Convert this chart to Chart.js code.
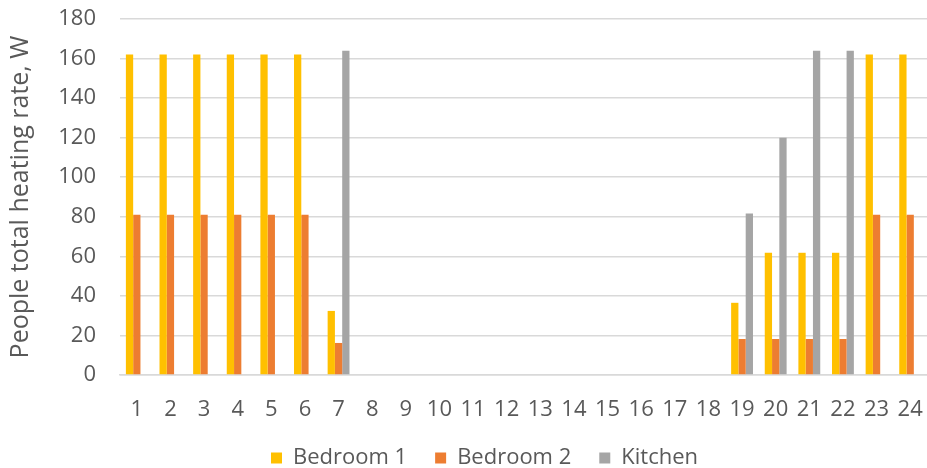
<!DOCTYPE html>
<html>
<head>
<meta charset="utf-8">
<script src="https://cdn.jsdelivr.net/npm/chart.js@4/dist/chart.umd.min.js"></script>
<style>
  html, body { margin: 0; padding: 0; background: #fff; }
  #wrap { width: 927px; height: 468px; position: relative; }
</style>
</head>
<body>
<div id="wrap"><canvas id="heatChart"></canvas></div>
<script>
  "use strict";

  // hour of day
  const hours = ["1", "2", "3", "4", "5", "6", "7", "8", "9", "10", "11", "12",
    "13", "14", "15", "16", "17", "18", "19", "20", "21", "22", "23", "24"];

  // people heat gain per room, W
  const bedroom1 = [162, 162, 162, 162, 162, 162, 32.4, 0, 0, 0, 0, 0,
    0, 0, 0, 0, 0, 0, 36.5, 61.8, 61.8, 61.8, 162, 162];
  const bedroom2 = [81, 81, 81, 81, 81, 81, 16.2, 0, 0, 0, 0, 0,
    0, 0, 0, 0, 0, 0, 18.2, 18.2, 18.2, 18.2, 81, 81];
  const kitchen = [0, 0, 0, 0, 0, 0, 164, 0, 0, 0, 0, 0,
    0, 0, 0, 0, 0, 0, 81.7, 120, 164, 164, 0, 0];

  const yTicks = [0, 20, 40, 60, 80, 100, 120, 140, 160, 180];

  const textColor = "#595959";
  const gridColor = "#d9d9d9";
  const fontFamily = "'Open Sans', sans-serif";

  const bar = (label, data, color) => ({
    label, data,
    backgroundColor: color,
    borderWidth: 0,
    barPercentage: 1.0,
    categoryPercentage: 0.65
  });

  // nudge the legend a bit right of the canvas centre
  const legendShift = {
    id: "legendShift",
    afterLayout(chart) {
      if (!chart.legend) return;
      chart.legend.left += 21;
      chart.legend.right += 21;
    }
  };

  new Chart(document.getElementById("heatChart"), {
    type: "bar",
    data: {
      labels: hours,
      datasets: [
        bar("Bedroom 1", bedroom1, "#ffc000"),
        bar("Bedroom 2", bedroom2, "#ed7d31"),
        bar("Kitchen", kitchen, "#a5a5a5")
      ]
    },
    plugins: [legendShift],
    options: {
      responsive: true,
      maintainAspectRatio: false,
      animation: false,
      layout: { padding: { left: 0, right: 0, top: 19, bottom: -11 } },
      plugins: {
        tooltip: { enabled: false },
        legend: {
          position: "bottom",
          labels: {
            color: textColor,
            font: { family: fontFamily, size: 22 },
            boxWidth: 11,
            boxHeight: 11,
            padding: 28
          }
        }
      },
      scales: {
        x: {
          grid: { display: false, drawTicks: false },
          border: { display: true, color: gridColor, width: 1.5 },
          ticks: { color: textColor, font: { family: fontFamily, size: 22 }, padding: 22, maxRotation: 0, autoSkip: false },
          afterFit: scale => {
            scale.height = 44;
            scale.paddingLeft = 0;
            scale.paddingRight = 0;
          }
        },
        y: {
          min: 0,
          max: 180,
          afterBuildTicks: scale => { scale.ticks = yTicks.map(value => ({ value })); },
          grid: { color: gridColor, lineWidth: 1.5, drawTicks: false },
          border: { display: false },
          ticks: { color: textColor, font: { family: fontFamily, size: 22 }, padding: 24 },
          title: {
            display: true,
            text: "People total heating rate, W",
            color: textColor,
            font: { family: fontFamily, size: 25 },
            padding: { top: 6, bottom: 0 }
          },
          afterFit: scale => {
            scale.width = 120;
            scale.paddingTop = 0;
            scale.paddingBottom = 0;
          }
        }
      }
    }
  });
</script>
</body>
</html>
